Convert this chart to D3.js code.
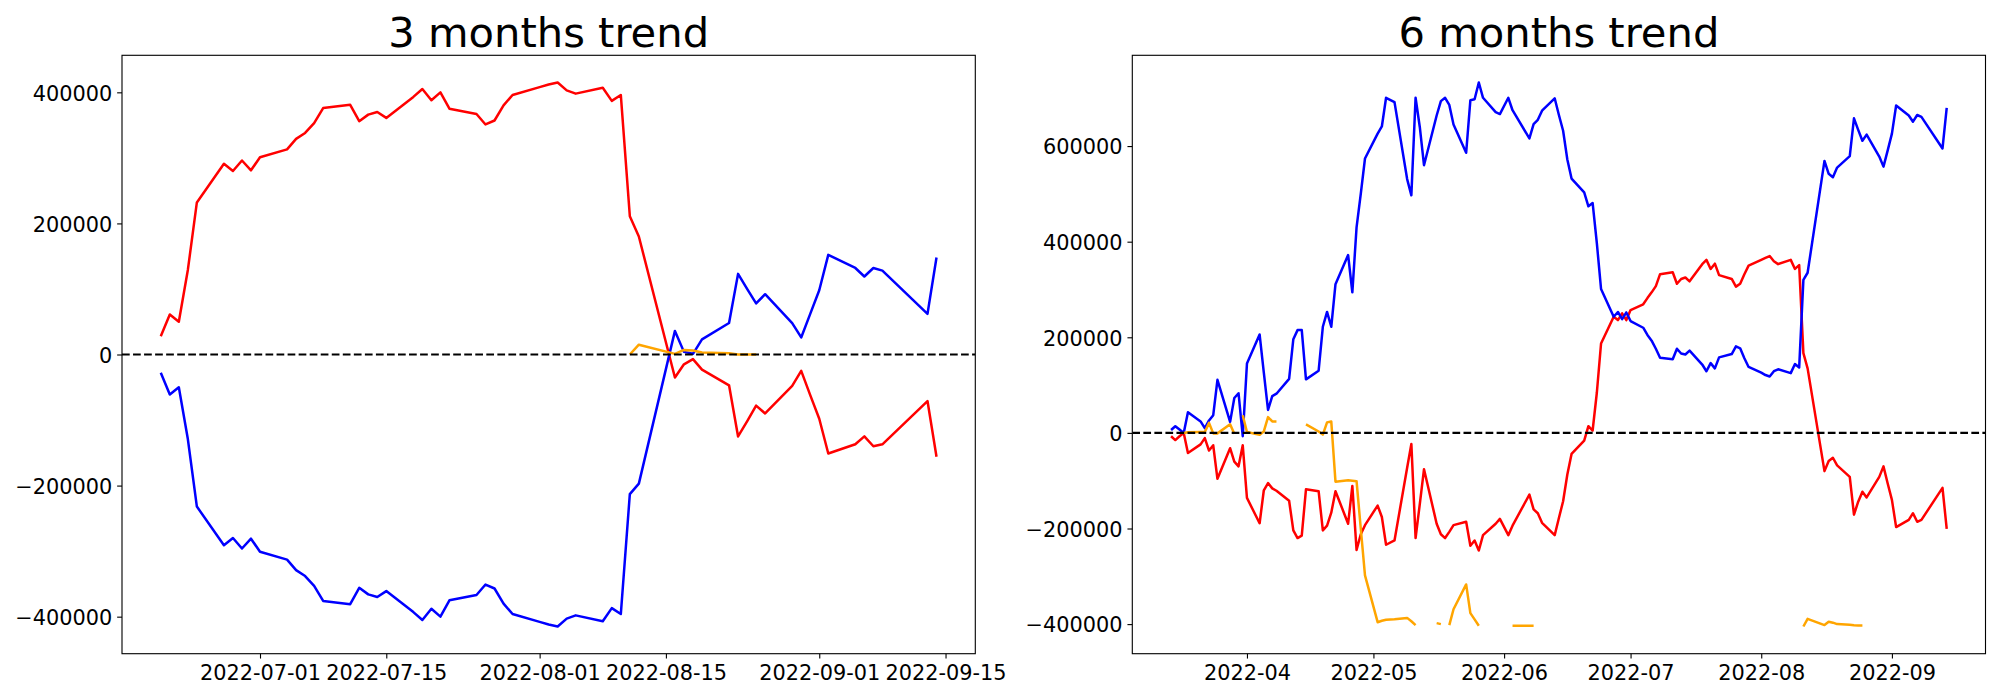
<!DOCTYPE html>
<html>
<head>
<meta charset="utf-8">
<script src="https://cdn.jsdelivr.net/npm/d3@7"></script>
<style>
  body { margin: 0; background: #fff; }
  text { font-family: "DejaVu Sans", sans-serif; }
</style>
</head>
<body>
<svg id="chart" width="2000" height="700"></svg>
<script>
// ---------------- DATA ----------------
const titles = ["3 months trend", "6 months trend"];

// 3 months panel (Korean trading days)
const dates3 = [
  "2022-06-20","2022-06-21","2022-06-22","2022-06-23","2022-06-24",
  "2022-06-27","2022-06-28","2022-06-29","2022-06-30","2022-07-01",
  "2022-07-04","2022-07-05","2022-07-06","2022-07-07","2022-07-08",
  "2022-07-11","2022-07-12","2022-07-13","2022-07-14","2022-07-15",
  "2022-07-18","2022-07-19","2022-07-20","2022-07-21","2022-07-22",
  "2022-07-25","2022-07-26","2022-07-27","2022-07-28","2022-07-29",
  "2022-08-01","2022-08-02","2022-08-03","2022-08-04","2022-08-05",
  "2022-08-08","2022-08-09","2022-08-10","2022-08-11","2022-08-12",
  "2022-08-16","2022-08-17","2022-08-18","2022-08-19",
  "2022-08-22","2022-08-23","2022-08-24","2022-08-25","2022-08-26",
  "2022-08-29","2022-08-30","2022-08-31","2022-09-01","2022-09-02",
  "2022-09-05","2022-09-06","2022-09-07","2022-09-08",
  "2022-09-13","2022-09-14"
];
const red3 = [
  28000, 61000, 50000, 129000, 232000,
  291000, 280000, 296000, 281000, 301000,
  313000, 329000, 338000, 353000, 376000,
  381000, 356000, 366000, 370000, 361000,
  393000, 405000, 388000, 400000, 375000,
  367000, 351000, 357000, 380000, 396000,
  408000, 412000, 415000, 403000, 398000,
  407000, 387000, 396000, 211000, 180000,
  -35000, -15000, -7000, -23000,
  -47000, -125000, -102000, -78000, -90000,
  -48000, -25000, -62000, -98000, -151000,
  -137000, -125000, -140000, -137000,
  -71000, -156000
];
const blue3 = [
  -28000, -61000, -50000, -129000, -232000,
  -291000, -280000, -296000, -281000, -301000,
  -313000, -329000, -338000, -353000, -376000,
  -381000, -356000, -366000, -370000, -361000,
  -393000, -405000, -388000, -400000, -375000,
  -367000, -351000, -357000, -380000, -396000,
  -408000, -412000, -415000, -403000, -398000,
  -407000, -387000, -396000, -213000, -197000,
  36000, 4000, 1000, 23000,
  48000, 123000, 100000, 78000, 92000,
  48000, 26000, 62000, 98000, 152000,
  132000, 119000, 132000, 128000,
  62000, 148000
];
const orange3 = [
  null, null, null, null, null,
  null, null, null, null, null,
  null, null, null, null, null,
  null, null, null, null, null,
  null, null, null, null, null,
  null, null, null, null, null,
  null, null, null, null, null,
  null, null, null, 0, 15000,
  1000, 7000, 6000, 3000,
  2000, 0, 0, 0, null,
  null, null, null, null, null,
  null, null, null, null,
  null, null
];

// 6 months panel
const dates6 = [
  "2022-03-14","2022-03-15","2022-03-16","2022-03-17","2022-03-18",
  "2022-03-21","2022-03-22","2022-03-23","2022-03-24","2022-03-25",
  "2022-03-28","2022-03-29","2022-03-30","2022-03-31","2022-04-01",
  "2022-04-04","2022-04-05","2022-04-06","2022-04-07","2022-04-08",
  "2022-04-11","2022-04-12","2022-04-13","2022-04-14","2022-04-15",
  "2022-04-18","2022-04-19","2022-04-20","2022-04-21","2022-04-22",
  "2022-04-25","2022-04-26","2022-04-27","2022-04-28","2022-04-29",
  "2022-05-02","2022-05-03","2022-05-04","2022-05-06",
  "2022-05-09","2022-05-10","2022-05-11","2022-05-12","2022-05-13",
  "2022-05-16","2022-05-17","2022-05-18","2022-05-19","2022-05-20",
  "2022-05-23","2022-05-24","2022-05-25","2022-05-26","2022-05-27",
  "2022-05-30","2022-05-31","2022-06-02","2022-06-03",
  "2022-06-07","2022-06-08","2022-06-09","2022-06-10",
  "2022-06-13","2022-06-14","2022-06-15","2022-06-16","2022-06-17",
  "2022-06-20","2022-06-21","2022-06-22","2022-06-23","2022-06-24",
  "2022-06-27","2022-06-28","2022-06-29","2022-06-30","2022-07-01",
  "2022-07-04","2022-07-05","2022-07-06","2022-07-07","2022-07-08",
  "2022-07-11","2022-07-12","2022-07-13","2022-07-14","2022-07-15",
  "2022-07-18","2022-07-19","2022-07-20","2022-07-21","2022-07-22",
  "2022-07-25","2022-07-26","2022-07-27","2022-07-28","2022-07-29",
  "2022-08-01","2022-08-02","2022-08-03","2022-08-04","2022-08-05",
  "2022-08-08","2022-08-09","2022-08-10","2022-08-11","2022-08-12",
  "2022-08-16","2022-08-17","2022-08-18","2022-08-19",
  "2022-08-22","2022-08-23","2022-08-24","2022-08-25","2022-08-26",
  "2022-08-29","2022-08-30","2022-08-31","2022-09-01","2022-09-02",
  "2022-09-05","2022-09-06","2022-09-07","2022-09-08",
  "2022-09-13","2022-09-14"
];
const blue6 = [
  6000, 14000, 7000, 0, 43000,
  24000, 10000, 26000, 37000, 111000,
  23000, 73000, 83000, -7000, 145000,
  206000, 126000, 48000, 77000, 82000,
  113000, 196000, 215000, 215000, 112000,
  130000, 222000, 253000, 222000, 311000,
  372000, 294000, 430000, 500000, 574000,
  626000, 641000, 701000, 692000,
  531000, 497000, 701000, 640000, 560000,
  664000, 694000, 701000, 686000, 645000,
  586000, 696000, 698000, 733000, 701000,
  671000, 667000, 701000, 675000,
  616000, 646000, 655000, 674000,
  700000, 665000, 632000, 572000, 532000,
  503000, 474000, 481000, 397000, 301000,
  243000, 253000, 238000, 252000, 234000,
  220000, 205000, 193000, 176000, 157000,
  154000, 176000, 166000, 164000, 172000,
  143000, 129000, 146000, 135000, 158000,
  165000, 181000, 177000, 156000, 138000,
  126000, 121000, 118000, 129000, 133000,
  125000, 144000, 137000, 320000, 335000,
  569000, 542000, 535000, 555000,
  579000, 658000, 634000, 611000, 624000,
  578000, 557000, 591000, 626000, 685000,
  664000, 651000, 665000, 661000,
  595000, 680000
];
const red6 = [
  -7000, -15000, -7000, 0, -42000,
  -24000, -11000, -37000, -26000, -96000,
  -32000, -60000, -70000, -26000, -136000,
  -189000, -120000, -105000, -116000, -121000,
  -142000, -204000, -220000, -215000, -118000,
  -122000, -204000, -194000, -167000, -122000,
  -190000, -111000, -245000, -212000, -193000,
  -152000, -176000, -234000, -225000,
  -73000, -23000, -220000, -149000, -76000,
  -190000, -212000, -220000, -207000, -193000,
  -186000, -236000, -225000, -246000, -214000,
  -190000, -180000, -214000, -194000,
  -129000, -160000, -168000, -188000,
  -214000, -178000, -143000, -87000, -44000,
  -16000, 14000, 5000, 84000, 187000,
  243000, 236000, 250000, 236000, 257000,
  269000, 282000, 294000, 307000, 332000,
  336000, 312000, 322000, 325000, 317000,
  353000, 362000, 343000, 354000, 330000,
  322000, 306000, 312000, 332000, 350000,
  362000, 366000, 370000, 359000, 353000,
  362000, 343000, 351000, 167000, 135000,
  -80000, -59000, -52000, -68000,
  -92000, -171000, -144000, -123000, -135000,
  -92000, -70000, -106000, -140000, -197000,
  -182000, -168000, -186000, -182000,
  -115000, -201000
];
const orange6 = [
  null, null, null, 0, 1500,
  2000, 2000, 21000, -1000, -1000,
  18000, -2000, null, 37000, 2000,
  -4000, 3000, 33000, 24000, 24000,
  null, null, null, null, 18000,
  3000, -3500, 22000, 24000, -102000,
  -99000, -100000, -101000, -200000, -298000,
  -396000, -393000, -391000, -390000,
  -387000, -394000, -402000, null, null,
  -398000, -400000, null, -402000, -369000,
  -317000, -377000, -390000, -403500, null,
  null, null, null, -403500,
  -403500, -403500, null, null,
  null, null, null, null, null,
  null, null, null, null, null,
  null, null, null, null, null,
  null, null, null, null, null,
  null, null, null, null, null,
  null, null, null, null, null,
  null, null, null, null, null,
  null, null, null, null, null,
  null, null, null, -405000, -389000,
  -402000, -395000, -397000, -400000,
  -401500, -402500, -403000, -403000, null,
  null, null, null, null, null,
  null, null, null, null,
  null, null
];

// Tick definitions
const yTicks3 = [-400000, -200000, 0, 200000, 400000];
const yTicks6 = [-400000, -200000, 0, 200000, 400000, 600000];
const xTicks3 = ["2022-07-01","2022-07-15","2022-08-01","2022-08-15","2022-09-01","2022-09-15"];
const xTickLabels3 = ["2022-07-01","2022-07-15","2022-08-01","2022-08-15","2022-09-01","2022-09-15"];
const xTicks6 = ["2022-04-01","2022-05-01","2022-06-01","2022-07-01","2022-08-01","2022-09-01"];
const xTickLabels6 = ["2022-04","2022-05","2022-06","2022-07","2022-08","2022-09"];

// ---------------- DRAWING ----------------
const parse = d3.utcParse("%Y-%m-%d");
const svg = d3.select("#chart");
svg.append("rect").attr("width", 2000).attr("height", 700).attr("fill", "#fff");

const TOP = 55.3, BOTTOM = 653.7;
const TICK = 4.86, PAD = 4.86;
const LW = 2.5;

const panels = [
  { title: titles[0], dates: dates3, red: red3, blue: blue3, orange: orange3,
    xTicks: xTicks3, xLabels: xTickLabels3, yTicks: yTicks3, left: 122, right: 975.3 },
  { title: titles[1], dates: dates6, red: red6, blue: blue6, orange: orange6,
    xTicks: xTicks6, xLabels: xTickLabels6, yTicks: yTicks6, left: 1132.3, right: 1985.5 }
];

const fmt = v => (v < 0 ? "\u2212" + Math.abs(v) : String(v));

panels.forEach((p, pi) => {
  const g = svg.append("g");
  const t = p.dates.map(parse);
  const t0 = t[0].getTime(), t1 = t[t.length - 1].getTime();
  const tp = (t1 - t0) * 0.05;
  const x = d3.scaleUtc().domain([new Date(t0 - tp), new Date(t1 + tp)]).range([p.left, p.right]);

  const allV = [...p.red, ...p.blue, ...p.orange].filter(v => v != null);
  const [vmin, vmax] = d3.extent(allV);
  const vp = (vmax - vmin) * 0.05;
  const y = d3.scaleLinear().domain([vmin - vp, vmax + vp]).range([BOTTOM, TOP]);

  const clipId = "clip" + pi;
  svg.append("clipPath").attr("id", clipId).append("rect")
    .attr("x", p.left).attr("y", TOP).attr("width", p.right - p.left).attr("height", BOTTOM - TOP);

  const series = [
    { vals: p.red, color: "red" },
    { vals: p.blue, color: "blue" },
    { vals: p.orange, color: "orange" }
  ];
  const lineGen = d3.line()
    .defined(d => d.v != null)
    .x(d => x(d.t))
    .y(d => y(d.v));

  const plot = g.append("g").attr("clip-path", `url(#${clipId})`);
  series.forEach(s => {
    const pts = t.map((tt, i) => ({ t: tt, v: s.vals[i] }));
    plot.append("path")
      .attr("d", lineGen(pts))
      .attr("fill", "none")
      .attr("stroke", s.color)
      .attr("stroke-width", LW)
      .attr("stroke-linejoin", "round")
      .attr("stroke-linecap", "butt");
  });

  // zero dashed line
  plot.append("line")
    .attr("x1", p.left).attr("x2", p.right)
    .attr("y1", y(0)).attr("y2", y(0))
    .attr("stroke", "#000")
    .attr("stroke-width", 2.08)
    .attr("stroke-dasharray", "7.71,3.33");

  // axes
  const yAxis = d3.axisLeft(y).tickValues(p.yTicks).tickFormat(fmt)
    .tickSize(TICK).tickPadding(PAD);
  const ya = g.append("g").attr("transform", `translate(${p.left},0)`).call(yAxis);
  ya.select(".domain").remove();
  ya.selectAll(".tick line").attr("stroke", "#000").attr("stroke-width", 1.11);
  ya.selectAll(".tick text").attr("font-size", "20.83px").attr("fill", "#000")
    .attr("font-family", "DejaVu Sans, sans-serif").attr("dy", "0.37em");

  const xt = p.xTicks.map(parse);
  const xAxis = d3.axisBottom(x).tickValues(xt).tickFormat((d, i) => p.xLabels[i])
    .tickSize(TICK).tickPadding(PAD);
  const xa = g.append("g").attr("transform", `translate(0,${BOTTOM})`).call(xAxis);
  xa.select(".domain").remove();
  xa.selectAll(".tick line").attr("stroke", "#000").attr("stroke-width", 1.11);
  xa.selectAll(".tick text").attr("font-size", "20.83px").attr("fill", "#000")
    .attr("font-family", "DejaVu Sans, sans-serif").attr("dy", "0.8em");

  // frame
  g.append("rect")
    .attr("x", p.left).attr("y", TOP)
    .attr("width", p.right - p.left).attr("height", BOTTOM - TOP)
    .attr("fill", "none").attr("stroke", "#000").attr("stroke-width", 1.11);

  // title
  g.append("text")
    .attr("x", (p.left + p.right) / 2).attr("y", 47)
    .attr("text-anchor", "middle")
    .attr("font-size", "41.67px")
    .attr("fill", "#000")
    .text(p.title);
});
</script>
</body>
</html>
